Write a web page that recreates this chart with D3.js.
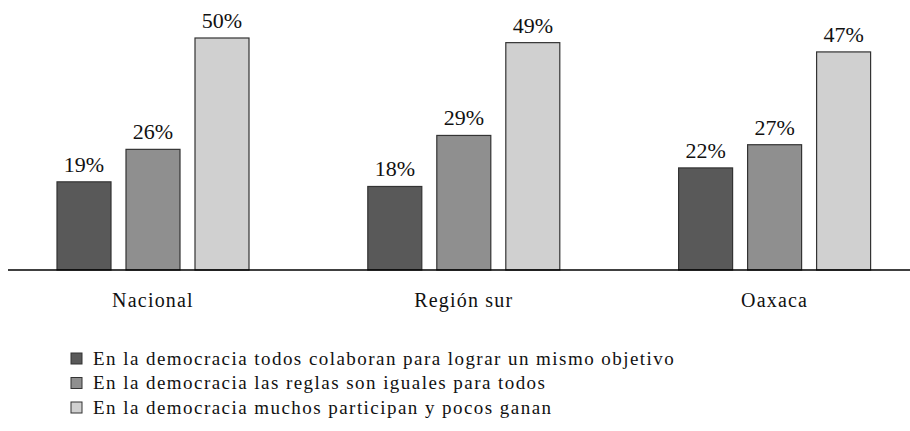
<!DOCTYPE html>
<html>
<head>
<meta charset="utf-8">
<script src="https://cdn.jsdelivr.net/npm/d3@7"></script>
<style>
body { margin: 0; background: #fff; }
</style>
</head>
<body>
<script>
var w = 910;
var h = 431;

var categories = ["Nacional", "Región sur", "Oaxaca"];
var series = [
    "En la democracia todos colaboran para lograr un mismo objetivo",
    "En la democracia las reglas son iguales para todos",
    "En la democracia muchos participan y pocos ganan"
];
var values = [
    [19, 26, 50],
    [18, 29, 49],
    [22, 27, 47]
];
var colors = ["#595959", "#8f8f8f", "#d0d0d0"];

var font = "'Liberation Serif', 'Times New Roman', serif";

var svg = d3.select("body")
    .append("svg")
    .attr("width", w)
    .attr("height", h)
    .attr("font-family", font)

var base = 270;

var x0 = d3.scaleBand()
    .domain(categories)
    .range([-2.4, 930]);

var x1 = d3.scaleBand()
    .domain(d3.range(series.length))
    .range([0, 192])
    .paddingInner(15 / 69);

var y = d3.scaleLinear()
    .domain([0, 50])
    .range([base, base - 232]);

var groups = svg.selectAll("g.group")
    .data(categories)
    .enter()
    .append("g")
    .attr("class", "group")
    .attr("transform", function(d) {
        return "translate(" + (x0(d) + x0.bandwidth() / 2 - 96) + ",0)";
    });

groups.selectAll("rect")
    .data(function(d, i) { return values[i]; })
    .enter()
    .append("rect")
    .attr("x", function(d, j) { return x1(j); })
    .attr("y", function(d) { return y(d); })
    .attr("width", x1.bandwidth())
    .attr("height", function(d) { return base - y(d); })
    .style("fill", function(d, j) { return colors[j]; })
    .style("stroke", "#333")
    .style("stroke-width", 1.2)

groups.selectAll("text.val")
    .data(function(d, i) { return values[i]; })
    .enter()
    .append("text")
    .attr("class", "val")
    .attr("x", function(d, j) { return x1(j) + x1.bandwidth() / 2; })
    .attr("y", function(d) { return y(d) - 10; })
    .attr("text-anchor", "middle")
    .style("font-size", "22px")
    .style("fill", "#111")
    .text(function(d) { return d + "%"; })

// baseline
svg.append("line")
    .attr("x1", 8)
    .attr("x2", 910)
    .attr("y1", base)
    .attr("y2", base)
    .style("stroke", "#000")
    .style("stroke-width", 1.5)

svg.selectAll("text.cat")
    .data(categories)
    .enter()
    .append("text")
    .attr("class", "cat")
    .attr("x", function(d) { return x0(d) + x0.bandwidth() / 2; })
    .attr("y", 307)
    .attr("text-anchor", "middle")
    .style("font-size", "20px")
    .style("letter-spacing", "1.2px")
    .style("fill", "#111")
    .text(function(d) { return d; })

var legend = svg.selectAll("g.legend")
    .data(series)
    .enter()
    .append("g")
    .attr("class", "legend")
    .attr("transform", function(d, i) { return "translate(71," + (353 + i * 24.5) + ")"; });

legend.append("rect")
    .attr("width", 11)
    .attr("height", 11)
    .style("fill", function(d, i) { return colors[i]; })
    .style("stroke", "#333")
    .style("stroke-width", 1)

legend.append("text")
    .attr("x", 22)
    .attr("y", 11.5)
    .style("font-size", "19px")
    .style("letter-spacing", "1.45px")
    .style("fill", "#111")
    .text(function(d) { return d; })
</script>
</body>
</html>
